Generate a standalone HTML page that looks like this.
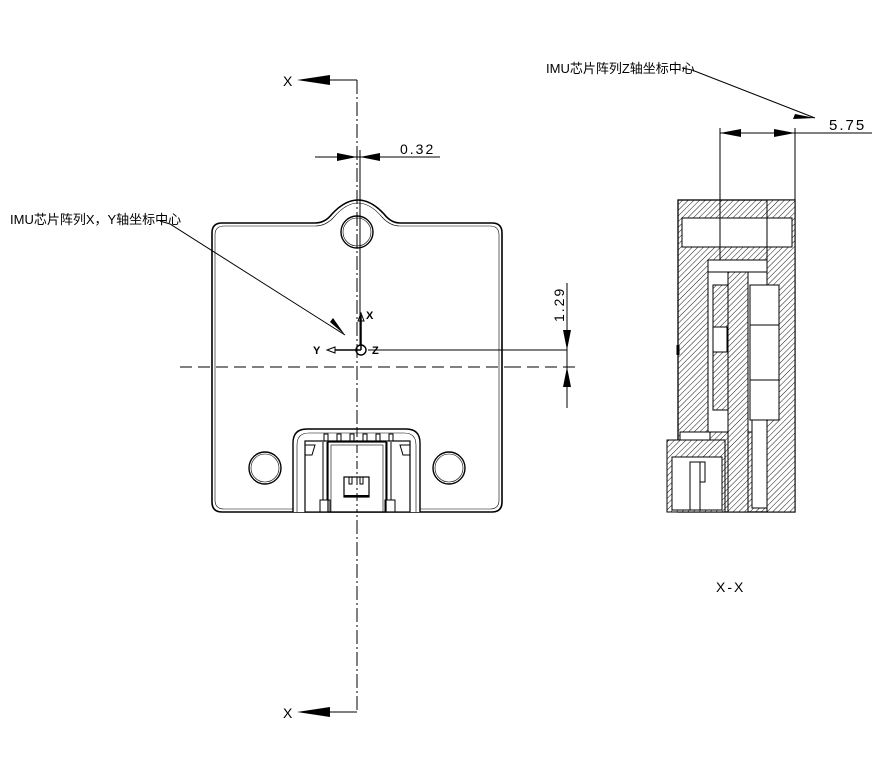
<!DOCTYPE html>
<html><head><meta charset="utf-8"><style>
html,body{margin:0;padding:0;background:#fff}
svg{display:block}
text{font-family:"Liberation Sans","Noto Sans CJK SC",sans-serif;fill:#000}
</style></head><body>
<svg width="892" height="771" viewBox="0 0 892 771" xmlns="http://www.w3.org/2000/svg">
<defs>
<pattern id="h" width="4" height="4" patternUnits="userSpaceOnUse" patternTransform="rotate(45)">
<rect width="4" height="4" fill="#fff"/><line x1="0" y1="0" x2="0" y2="4" stroke="#000" stroke-width="0.9"/>
</pattern>
</defs>
<g fill="none" stroke="#000" stroke-width="1">
<line x1="357" y1="80" x2="357" y2="712" stroke-dasharray="14,3,2,3"/>
<line x1="360" y1="150" x2="360" y2="345"/>
<line x1="180" y1="367" x2="515" y2="367" stroke-dasharray="12,6"/>
<polyline points="330,80 357,80"/>
<polyline points="330,712 357,712"/>
<!-- board -->
<path d="M222,223 L315,223 Q325,223 332,214 Q345,200 358,200 Q371,200 384,214 Q391,223 400,223 L492,223 Q502,223 502,233 L502,502 Q502,512 492,512 L222,512 Q212,512 212,502 L212,233 Q212,223 222,223 Z" stroke-width="1.6"/>
<path d="M224,226 L315,226 Q326,226 334,217 Q346,203 358,203 Q370,203 382,217 Q390,226 400,226 L490,226 Q499,226 499,235 L499,500 Q499,509 490,509 L224,509 Q215,509 215,500 L215,235 Q215,226 224,226 Z" stroke-width="0.6"/>
<circle cx="357" cy="232" r="16" stroke-width="1.4"/><circle cx="357" cy="232" r="14" stroke-width="0.6"/>
<circle cx="265" cy="468" r="16" stroke-width="1.4"/><circle cx="265" cy="468" r="14" stroke-width="0.6"/>
<circle cx="449" cy="468" r="16" stroke-width="1.4"/><circle cx="449" cy="468" r="14" stroke-width="0.6"/>
<!-- connector -->
<path d="M293,512 L293,443 Q293,429 307,429 L406,429 Q420,429 420,443 L420,512" stroke-width="1.4" fill="#fff"/>
<path d="M297,512 L297,445 Q297,433 309,433 L404,433 Q416,433 416,445 L416,512" stroke-width="0.6"/>
<line x1="357" y1="429" x2="357" y2="512" stroke-dasharray="8,3,2,3"/>
<rect x="305" y="441" width="105" height="71" stroke-width="1.2"/>
<rect x="328" y="442" width="58" height="70" stroke-width="1.2"/>
<rect x="331" y="445" width="52" height="67" stroke-width="0.6"/>
<line x1="323" y1="442" x2="323" y2="500"/><line x1="327" y1="442" x2="327" y2="500"/>
<line x1="387" y1="442" x2="387" y2="500"/><line x1="391" y1="442" x2="391" y2="500"/>
<rect x="320" y="500" width="10" height="12"/><rect x="385" y="500" width="10" height="12"/>
<path d="M305,445 L315,445 L312,455 L305,455"/><path d="M410,445 L400,445 L403,455 L410,455"/>
<rect x="324" y="434" width="4" height="7"/><rect x="337" y="434" width="4" height="7"/><rect x="350" y="434" width="4" height="7"/><rect x="363" y="434" width="4" height="7"/><rect x="376" y="434" width="4" height="7"/><rect x="389" y="434" width="4" height="7"/>
<rect x="344" y="477" width="25" height="20" stroke-width="1.2"/>
<line x1="344" y1="496" x2="369" y2="496" stroke-width="2"/>
<rect x="349" y="477" width="3" height="7"/><rect x="360" y="477" width="3" height="7"/>
<!-- coordinate system -->
<line x1="361" y1="350" x2="361" y2="315" stroke-width="1.5"/>
<path d="M358,321 L361,313 L364,321 Z"/>
<line x1="361" y1="350" x2="335" y2="350" stroke-width="1.5"/>
<path d="M335,347 L327,350 L335,353 Z"/>
<circle cx="361" cy="350" r="5" stroke-width="1.4"/>
<line x1="368" y1="350" x2="567" y2="350"/>
<line x1="567" y1="283" x2="567" y2="408"/>
<line x1="575" y1="367" x2="510" y2="367" stroke-dasharray="12,6"/>
<line x1="315" y1="157" x2="440" y2="157"/>
<polyline points="160,221 170,224 345,335"/>
<polyline points="682,68 692,70 815,118"/>
<line x1="720" y1="128" x2="720" y2="260"/>
<line x1="795" y1="128" x2="795" y2="200"/>
<line x1="720" y1="133" x2="872" y2="133"/>
</g>
<g fill="#000" stroke="none">
<path d="M297,80 L330,75 L330,85 Z"/>
<path d="M297,712 L330,707 L330,717 Z"/>
<path d="M357,157 L337,153 L337,161 Z"/>
<path d="M360,157 L380,153 L380,161 Z"/>
<path d="M567,350 L563,330 L571,330 Z"/>
<path d="M567,367 L563,387 L571,387 Z"/>
<path d="M345,335 L330,322 L333,318 Z"/>
<path d="M815,118 L795,114 L793,119 Z"/>
<path d="M720,133 L741,129 L741,137 Z"/>
<path d="M795,133 L774,129 L774,137 Z"/>
</g>
<!-- side view -->
<g stroke="#000" stroke-width="1">
<rect x="678" y="200" width="117" height="312" fill="url(#h)" stroke-width="1.3"/>
<rect x="708" y="260" width="59" height="172" fill="#fff"/>
<rect x="767" y="200" width="28" height="312" fill="url(#h)"/>
<rect x="682" y="218" width="110" height="29" fill="#fff"/>
<line x1="767" y1="218" x2="767" y2="247"/>
<line x1="708" y1="272" x2="767" y2="272"/>
<rect x="713" y="285" width="16" height="125" fill="url(#h)"/>
<rect x="713" y="327" width="14" height="25" fill="#fff"/>
<rect x="728" y="272" width="20" height="240" fill="url(#h)"/>
<rect x="750" y="285" width="29" height="135" fill="#fff"/>
<line x1="750" y1="325" x2="779" y2="325"/><line x1="750" y1="380" x2="779" y2="380"/>
<rect x="752" y="420" width="15" height="88" fill="#fff"/>
<rect x="680" y="432" width="30" height="8" fill="#fff"/>
<path d="M667,440 L725,440 L725,512 L667,512 Z" fill="url(#h)"/>
<rect x="672" y="457" width="50" height="53" fill="#fff"/>
<rect x="690" y="462" width="10" height="48" fill="#fff"/>
<rect x="700" y="462" width="5" height="20" fill="#fff"/>
<line x1="720" y1="200" x2="720" y2="260"/>
<line x1="678" y1="345" x2="678" y2="355" stroke-width="3"/>
</g>
<g font-size="14">
<text x="283" y="86">X</text>
<text x="283" y="718">X</text>
<text x="400" y="154" letter-spacing="2">0.32</text>
<text x="829" y="130" font-size="15" letter-spacing="2">5.75</text>
<text x="716" y="592" letter-spacing="2">X-X</text>
<text transform="translate(564,322) rotate(-90)" letter-spacing="2">1.29</text>
</g>
<g font-size="11" font-weight="bold">
<text x="366" y="319">X</text>
<text x="313" y="354">Y</text>
<text x="372" y="354">Z</text>
</g>
<text x="10" y="224" font-size="13">IMU芯片阵列X，Y轴坐标中心</text>
<text x="546" y="73" font-size="13">IMU芯片阵列Z轴坐标中心</text>
</svg>
</body></html>
